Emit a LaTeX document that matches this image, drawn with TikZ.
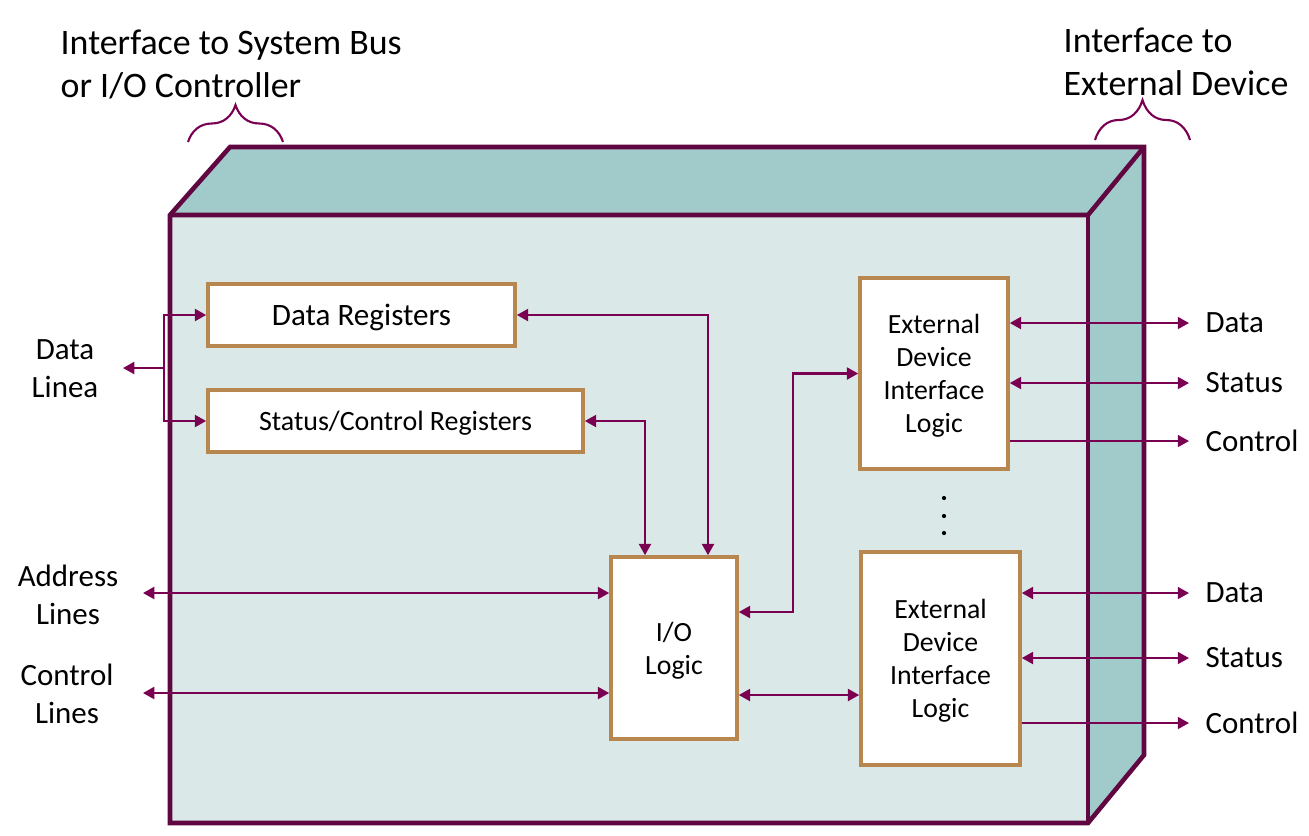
\documentclass[tikz,border=0pt]{standalone}
\usepackage{fontspec}
\setmainfont{Carlito}
\usepackage{tikz}
\usetikzlibrary{arrows.meta,positioning,decorations.pathreplacing}
\definecolor{frameline}{RGB}{96,6,64}
\definecolor{topface}{RGB}{160,203,202}
\definecolor{frontface}{RGB}{218,233,232}
\definecolor{boxline}{RGB}{184,134,79}
\definecolor{wirecol}{RGB}{122,0,82}
\tikzset{
  blk/.style={draw=boxline, line width=1pt, fill=white, align=center, inner sep=0pt, text depth=0pt},
  wire/.style={draw=wirecol, line width=0.6pt, >={Triangle[length=3.2pt,width=3.4pt]}},
  lbl/.style={font=\fontsize{8.8}{10.8}\selectfont, align=center},
  sig/.style={font=\fontsize{8.8}{10.8}\selectfont, anchor=west, inner sep=4.5pt},
  brc/.style={draw=wirecol, line width=0.6pt, decorate}
}

\begin{document}
\begin{tikzpicture}[x=0.01cm, y=-0.01cm]
            \useasboundingbox (0,0) rectangle (1309,835);
            \fill[topface] (170,215) -- (230,147) -- (1144,147) -- (1088,215) -- cycle;
            \fill[topface] (1088,215) -- (1144,147) -- (1144,755) -- (1088,823) -- cycle;
            \fill[frontface] (170,215) rectangle (1088,823);
            \draw[frameline, line width=1.3pt] (170,823) -- (170,215) -- (230,147) -- (1144,147) -- (1144,755) -- (1088,823) -- cycle;
            \draw[frameline, line width=1.3pt] (170,215) -- (1088,215) -- (1144,147);
            \draw[frameline, line width=1.3pt] (1088,215) -- (1088,823);

            \node[anchor=north west, align=left, inner sep=0pt, font=\fontsize{10.2}{12.2}\selectfont] (sbus) at (60,29) {Interface to System Bus\\or I/O Controller};
            \node[anchor=north west, align=left, inner sep=0pt, font=\fontsize{10.2}{12.2}\selectfont] (xdev) at (1063,27) {Interface to\\External Device};
            \draw[brc, decoration={brace, amplitude=0.37cm}] (188,142) -- (283,142);
            \draw[brc, decoration={brace, amplitude=0.40cm}] (1095,140) -- (1190,140);

            \node[blk, minimum width=3.07cm, minimum height=0.62cm, font=\fontsize{8.85}{10}\selectfont] (dreg) at (361.5,315) {Data Registers};
            \node[blk, minimum width=3.75cm, minimum height=0.62cm, font=\fontsize{7.95}{9.4}\selectfont] (sreg) at (395.5,421) {Status/Control Registers};
            \node[blk, minimum width=1.26cm, minimum height=1.82cm, font=\fontsize{7.9}{9.4}\selectfont] (io) at (674,648) {I/O\\Logic};
            \node[blk, minimum width=1.48cm, minimum height=1.91cm, font=\fontsize{7.9}{9.4}\selectfont] (ed1) at (934,373.5) {External\\Device\\Interface\\Logic};
            \node[blk, minimum width=1.59cm, minimum height=2.13cm, font=\fontsize{7.9}{9.4}\selectfont] (ed2) at (940.5,658.5) {External\\Device\\Interface\\Logic};
            \fill (944,498) circle[radius=0.6pt];
            \fill (944,516) circle[radius=0.6pt];
            \fill (944,533) circle[radius=0.6pt];

            \node[lbl] (dlin) at (65,369) {Data\\Linea};
            \node[lbl] (alin) at (68,595) {Address\\Lines};
            \node[lbl] (clin) at (67,694) {Control\\Lines};
            \coordinate (dj) at (164,368);
            \coordinate (dl) at (123,368);
            \coordinate (al) at (143,593);
            \coordinate (cl) at (143,693);
            \coordinate (drx) at (708,315);
            \coordinate (srx) at (645,421);
            \coordinate (jx) at (793,612);
            \coordinate (iy) at (737,695);

            \draw[wire,->] (dj) -- (dl);
            \draw[wire,->] (dj) |- (dreg.west);
            \draw[wire,->] (dj) |- (sreg.west);
            \draw[wire,<->] (dreg.east) -| (io.north -| drx);
            \draw[wire,<->] (sreg.east) -| (io.north -| srx);
            \draw[wire,<->] (al) -- (io.west |- al);
            \draw[wire,<->] (cl) -- (io.west |- cl);
            \draw[wire,<->] (io.east |- jx) -- (jx) |- (ed1.west);
            \draw[wire,<->] (io.east |- iy) -- (ed2.west |- iy);

            \node[sig] (d1) at (1189,323) {Data};
            \node[sig] (s1) at (1189,383) {Status};
            \node[sig] (c1) at (1189,441) {Control};
            \node[sig] (d2) at (1189,593) {Data};
            \node[sig] (s2) at (1189,658) {Status};
            \node[sig] (c2) at (1189,723) {Control};
            \draw[wire,<->] (ed1.east |- d1) -- (d1.west);
            \draw[wire,<->] (ed1.east |- s1) -- (s1.west);
            \draw[wire,->] (ed1.east |- c1) -- (c1.west);
            \draw[wire,<->] (ed2.east |- d2) -- (d2.west);
            \draw[wire,<->] (ed2.east |- s2) -- (s2.west);
            \draw[wire,->] (ed2.east |- c2) -- (c2.west);
        \end{tikzpicture}
\end{document}
